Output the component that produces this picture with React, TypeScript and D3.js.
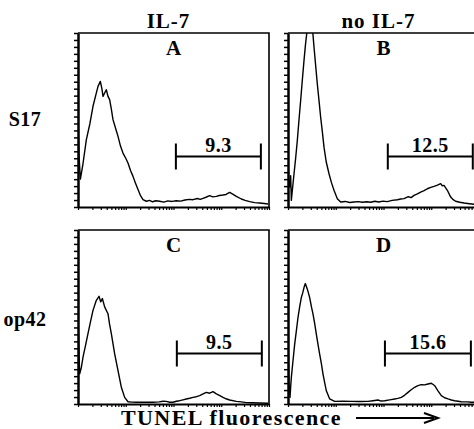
import * as d3 from 'd3';
import { useEffect, useRef } from 'react';

// [log10 TUNEL fluorescence (decades), relative cell count]
const panelA: [number, number][] = [
  [0.0, 53], [0.02, 30], [0.05, 16], [0.1, 24], [0.175, 38.7], [0.25, 48], [0.314, 57.9],
  [0.37, 64], [0.419, 69.3], [0.468, 72.2], [0.5, 68], [0.524, 63.6], [0.558, 65.5],
  [0.593, 67.4], [0.628, 63.6], [0.663, 61.7], [0.7, 56], [0.733, 50.2], [0.79, 45],
  [0.838, 40.6], [0.89, 35], [0.942, 31], [1.0, 28], [1.047, 25.3], [1.1, 21], [1.152, 17.6],
  [1.2, 14], [1.257, 10], [1.31, 6.5], [1.361, 4.2], [1.431, 3.3], [1.5, 3.8], [1.56, 3.0],
  [1.63, 3.6], [1.71, 3.3], [1.8, 2.8], [1.88, 3.5], [1.97, 3.2], [2.059, 3.6], [2.15, 3.4],
  [2.24, 4.0], [2.33, 4.4], [2.408, 4.2], [2.5, 4.9], [2.56, 4.4], [2.618, 5.0], [2.68, 5.6],
  [2.757, 6.5], [2.82, 5.8], [2.897, 6.1], [2.96, 6.6], [3.037, 6.9], [3.1, 7.2], [3.176, 8.4],
  [3.24, 7.4], [3.316, 6.1], [3.421, 4.6], [3.5, 3.8], [3.595, 3.1], [3.7, 2.5], [3.805, 2.3],
  [3.9, 2.0], [3.979, 1.7],
];

const panelB: [number, number][] = [
  [0.0, 25], [0.02, 14], [0.042, 11.5], [0.056, 18], [0.07, 3.8], [0.091, 9.6], [0.126, 19.1],
  [0.16, 28], [0.195, 38.2], [0.23, 50], [0.265, 61.2], [0.3, 73], [0.335, 84.1], [0.365, 93],
  [0.391, 99.4], [0.42, 112], [0.45, 118], [0.489, 110], [0.52, 100], [0.545, 91.8], [0.58, 81],
  [0.614, 70.7], [0.65, 61], [0.684, 51.6], [0.72, 43], [0.754, 34.4], [0.8, 26], [0.859, 19.1],
  [0.91, 14], [0.963, 9.6], [1.033, 4.8], [1.103, 2.9], [1.2, 3.2], [1.29, 2.6], [1.382, 2.9],
  [1.47, 3.1], [1.56, 2.7], [1.65, 3.0], [1.731, 2.7], [1.82, 3.3], [1.9, 2.9], [1.99, 3.4],
  [2.08, 3.1], [2.18, 3.8], [2.29, 4.2], [2.36, 4.6], [2.429, 4.8], [2.52, 5.9], [2.58, 5.4],
  [2.639, 6.7], [2.71, 7.6], [2.778, 8.6], [2.85, 9.4], [2.918, 10.5], [2.99, 11.3], [3.058, 11.9],
  [3.13, 12.6], [3.197, 13.4], [3.23, 12.2], [3.267, 12.4], [3.337, 9.6], [3.407, 5.7],
  [3.46, 4.2], [3.51, 3.3], [3.6, 2.7], [3.686, 2.3], [3.8, 1.9], [3.909, 1.5], [4.0, 1.3],
];

const panelC: [number, number][] = [
  [0.0, 53], [0.02, 30], [0.035, 17.3], [0.07, 21], [0.105, 26.9], [0.16, 34], [0.209, 40.4],
  [0.26, 47], [0.314, 53.8], [0.384, 59.6], [0.44, 61.9], [0.475, 58.7], [0.51, 60.6],
  [0.558, 55.8], [0.628, 51.9], [0.66, 46], [0.698, 40.4], [0.768, 28.8], [0.838, 19.2],
  [0.908, 9.6], [0.977, 3.8], [1.047, 1.3], [1.13, 1.1], [1.222, 1.0], [1.4, 1.0], [1.571, 1.0],
  [1.7, 1.2], [1.78, 1.6], [1.85, 1.5], [1.92, 1.0], [1.99, 1.0], [2.06, 1.6], [2.129, 1.9],
  [2.2, 2.4], [2.269, 2.9], [2.34, 3.3], [2.408, 3.8], [2.48, 4.2], [2.548, 4.8], [2.62, 5.8],
  [2.688, 6.7], [2.757, 6.2], [2.827, 7.1], [2.897, 5.8], [2.97, 4.8], [3.037, 3.8], [3.1, 3.0],
  [3.176, 2.3], [3.316, 1.5], [3.42, 1.2], [3.526, 0.8], [3.65, 0.7], [3.805, 0.6], [3.979, 0.4],
];

const panelD: [number, number][] = [
  [0.0, 40], [0.021, 11.5], [0.042, 3.8], [0.056, 10], [0.07, 15.3], [0.105, 25], [0.14, 34.4],
  [0.175, 42], [0.209, 49.7], [0.245, 56], [0.279, 61.2], [0.31, 64], [0.335, 66.9],
  [0.363, 69.2], [0.405, 66.0], [0.454, 61.2], [0.49, 56], [0.524, 51.6], [0.56, 46],
  [0.593, 40.2], [0.63, 34], [0.663, 28.7], [0.7, 23], [0.733, 17.2], [0.77, 12], [0.803, 7.6],
  [0.873, 2.9], [0.977, 1.5], [1.15, 1.6], [1.326, 1.5], [1.5, 1.4], [1.675, 1.5], [1.78, 1.9],
  [1.885, 2.3], [1.95, 1.7], [2.024, 1.9], [2.13, 2.4], [2.234, 2.9], [2.3, 3.2], [2.373, 3.8],
  [2.44, 5.0], [2.513, 6.7], [2.58, 8.2], [2.653, 9.6], [2.72, 10.6], [2.792, 11.1], [2.86, 11.0],
  [2.932, 11.5], [3.002, 11.9], [3.04, 11.2], [3.072, 10.5], [3.141, 7.6], [3.211, 4.8],
  [3.28, 3.6], [3.351, 2.9], [3.42, 2.3], [3.49, 1.9], [3.63, 1.3], [3.75, 1.2], [3.839, 1.0],
  [4.0, 0.9],
];

const panelLetters = ['A', 'B', 'C', 'D'];
const columnTitles = ['IL-7', 'no IL-7'];
const rowTitles = ['S17', 'op42'];
const gatePercents = ['9.3', '12.5', '9.5', '15.6'];
const gateLo = [2.05, 2.09, 2.07, 2.03]; // decades
const gateHi = [3.83, 3.87, 3.85, 3.83];
const gateCount = 29;

const App = () => {
  const ref = useRef<SVGSVGElement>(null);

  useEffect(() => {
    const svg = d3.select(ref.current);
    svg.selectAll('*').remove();

    const W = 191;
    const H = 174;
    const lefts = [78, 288];
    const tops = [33, 230];
    const font = "'Liberation Serif', 'Times New Roman', serif";

    const x = d3.scaleLog().domain([1, 1e4]).range([0, W]);
    const y = d3.scaleLinear().domain([0, 100]).range([H, 0]);
    const line = d3.line<[number, number]>()
      .x(d => x(10 ** d[0]))
      .y(d => y(d[1]));

    const xTicks = d3.range(0, 4)
      .flatMap(p => d3.range(1, 10).map(k => k * 10 ** p))
      .concat([1e4]);
    const yTicks = d3.range(0, 101, 4);

    const panels = [panelA, panelB, panelC, panelD];

    panels.forEach((data, i) => {
      const col = i % 2;
      const row = Math.floor(i / 2);
      const g = svg.append('g')
        .attr('transform', `translate(${lefts[col]},${tops[row]})`);

      g.append('clipPath').attr('id', `clip${i}`)
        .append('rect').attr('width', W).attr('height', H);

      g.append('path')
        .datum(data)
        .attr('d', line)
        .attr('fill', 'none')
        .attr('stroke', '#000')
        .attr('stroke-width', 1.4)
        .attr('stroke-linejoin', 'round')
        .attr('clip-path', `url(#clip${i})`);

      // log x axis, minor ticks only
      const xa = g.append('g')
        .attr('transform', `translate(0,${H})`)
        .call(d3.axisBottom(x).tickValues(xTicks).tickSize(3).tickSizeOuter(0).tickFormat(() => ''));
      xa.select('.domain').attr('stroke-width', 2);
      xa.selectAll('.tick line').attr('stroke-width', 1.2);

      const ya = g.append('g')
        .call(d3.axisLeft(y).tickValues(yTicks).tickSize(4).tickSizeOuter(0).tickFormat(() => ''));
      ya.select('.domain').attr('stroke-width', 2.5);
      ya.selectAll('.tick line').attr('stroke-width', 1.5);

      // frame top and right
      g.append('path')
        .attr('d', `M0,0H${W}V${H}`)
        .attr('fill', 'none')
        .attr('stroke', '#000')
        .attr('stroke-width', 1.6);

      g.append('text')
        .attr('x', W / 2)
        .attr('y', 22)
        .attr('text-anchor', 'middle')
        .attr('font-family', font)
        .attr('font-weight', 'bold')
        .attr('font-size', 21)
        .text(panelLetters[i]);

      // gate marker
      const gy = y(gateCount);
      const g0 = x(10 ** gateLo[i]);
      const g1 = x(10 ** gateHi[i]);
      g.append('path')
        .attr('d', `M${g0},${gy - 13}V${gy + 13}M${g0},${gy}H${g1}M${g1},${gy - 13}V${gy + 13}`)
        .attr('fill', 'none')
        .attr('stroke', '#000')
        .attr('stroke-width', 2);
      g.append('text')
        .attr('x', (g0 + g1) / 2)
        .attr('y', gy - 5)
        .attr('text-anchor', 'middle')
        .attr('font-family', font)
        .attr('font-weight', 'bold')
        .attr('font-size', 20)
        .attr('letter-spacing', 0.5)
        .text(gatePercents[i]);
    });

    columnTitles.forEach((t, c) => {
      svg.append('text')
        .attr('x', lefts[c] + W / 2 - 5)
        .attr('y', 28)
        .attr('text-anchor', 'middle')
        .attr('font-family', font)
        .attr('font-weight', 'bold')
        .attr('font-size', 21)
        .attr('letter-spacing', 1)
        .text(t);
    });

    rowTitles.forEach((t, r) => {
      svg.append('text')
        .attr('x', 25)
        .attr('y', [126, 326][r])
        .attr('text-anchor', 'middle')
        .attr('font-family', font)
        .attr('font-weight', 'bold')
        .attr('font-size', 20)
        .attr('letter-spacing', 0.5)
        .text(t);
    });

    svg.append('text')
      .attr('x', 121)
      .attr('y', 425)
      .attr('font-family', font)
      .attr('font-weight', 'bold')
      .attr('font-size', 22)
      .attr('letter-spacing', 1.4)
      .text('TUNEL fluorescence');

    svg.append('path')
      .attr('d', 'M356,418H434')
      .attr('stroke', '#000')
      .attr('stroke-width', 2);
    svg.append('path')
      .attr('d', 'M424,413L438,418L424,423')
      .attr('fill', 'none')
      .attr('stroke', '#000')
      .attr('stroke-width', 2);
  }, []);

  return (
    <svg
      ref={ref}
      width={474}
      height={429}
      style={{ position: 'absolute', left: 0, top: 0, background: '#fff' }}
    />
  );
};

export default App;
